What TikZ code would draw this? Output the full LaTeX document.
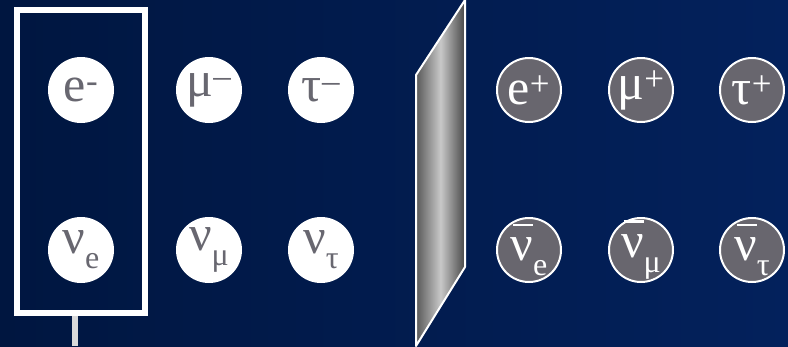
\documentclass[tikz,border=0pt]{standalone}
\usepackage{fontspec}
\setmainfont{Liberation Serif}
\usepackage{tikz}
\usetikzlibrary{positioning}

\definecolor{bgdark}{RGB}{0,22,64}
\definecolor{bglight}{RGB}{3,33,92}
\definecolor{ptext}{RGB}{104,103,112}
\definecolor{pfill}{RGB}{104,102,110}
\definecolor{platedark}{RGB}{88,88,88}
\definecolor{platelight}{RGB}{200,200,200}

\newcommand{\barnu}{\leavevmode\rlap{\hspace{0.05em}\rule[0.7em]{0.4em}{0.045em}}ν}
\newcommand{\lowsub}[1]{\raisebox{-0.3em}{\fontsize{32}{32}\selectfont #1}}

\tikzset{
  matter/.style={circle, fill=white, minimum size=66pt, inner sep=0pt},
  anti/.style={circle, fill=pfill, draw=white, line width=2pt, minimum size=64pt, inner sep=0pt},
  mlabel/.style={text=ptext, inner sep=0pt},
  alabel/.style={text=white, inner sep=0pt},
  frame/.style={draw=white, line width=6pt, minimum width=128pt, minimum height=303pt, inner sep=0pt},
  stem/.style={draw=gray!30, line width=6pt}
}

\begin{document}
\begin{tikzpicture}[x=1pt, y=-1pt, every node/.style={font=\fontsize{50}{50}\selectfont}]
  \useasboundingbox (0,0) rectangle (788,346);
  \shade[left color=bgdark, right color=bglight] (0,0) rectangle (788,346);
  \node[frame] (box) at (81,161.5) {};
  \coordinate (stemend) at (74.5,346);
  \draw[stem] (box.south -| stemend) -- (stemend);
  \shade[left color=platedark, right color=platedark!110, middle color=platelight] (416,75) -- (465,0) -- (465,267) -- (416,346) -- cycle;
  \draw[white, line width=2pt, line join=round] (416,75) -- (465,0) -- (465,267) -- (416,346) -- cycle;
  \node[matter, label={[mlabel]center:e\textsuperscript{-}}] (em) at (81,90) {};
  \node[matter, label={[mlabel]center:μ\textsuperscript{–}}] (mum) at (209,90) {};
  \node[matter, label={[mlabel]center:τ\textsuperscript{–}}] (taum) at (321,90) {};
  \node[matter, label={[mlabel]center:ν\lowsub{e}}] (nue) at (81,250) {};
  \node[matter, label={[mlabel]center:ν\lowsub{μ}}] (numu) at (209,250) {};
  \node[matter, label={[mlabel]center:ν\lowsub{τ}}] (nutau) at (321,250) {};
  \node[anti, label={[alabel]center:e\textsuperscript{+}}] (ep) at (529,90) {};
  \node[anti, label={[alabel]center:μ\textsuperscript{+}}] (mup) at (641,90) {};
  \node[anti, label={[alabel]center:τ\textsuperscript{+}}] (taup) at (752,90) {};
  \node[anti, label={[alabel]center:\barnu\lowsub{e}}] (anue) at (529,250) {};
  \node[anti, label={[alabel]center:\barnu\lowsub{μ}}] (anumu) at (641,250) {};
  \node[anti, label={[alabel]center:\barnu\lowsub{τ}}] (anutau) at (752,250) {};
\end{tikzpicture}
\end{document}
